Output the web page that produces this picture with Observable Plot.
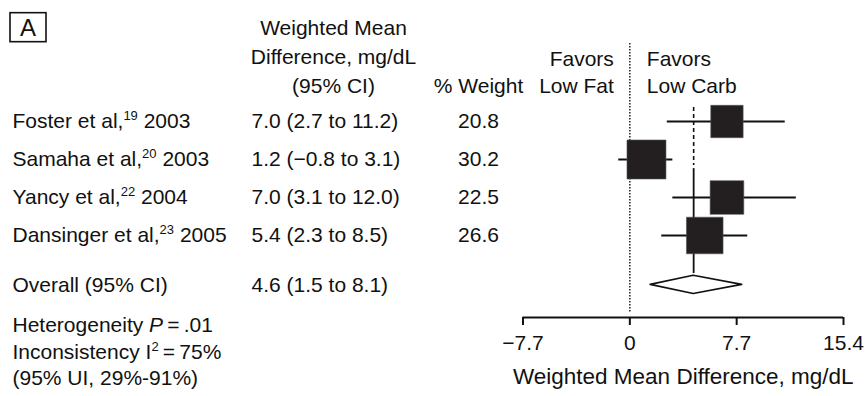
<!DOCTYPE html>
<html><head><meta charset="utf-8">
<script src="https://cdn.jsdelivr.net/npm/d3@7"></script>
<script src="https://cdn.jsdelivr.net/npm/@observablehq/plot@0.6"></script>
<style>html,body{margin:0;padding:0;background:#fff} svg{display:block}</style>
</head><body><div id="chart"></div>
<script>
// ---- data ----
const studies = ["Foster et al,^19^ 2003", "Samaha et al,^20^ 2003", "Yancy et al,^22^ 2004", "Dansinger et al,^23^ 2005"];
const estimates = [7.0, 1.2, 7.0, 5.4];
const lower = [2.7, -0.8, 3.1, 2.3];
const upper = [11.2, 3.1, 12.0, 8.5];
const weights = [20.8, 30.2, 22.5, 26.6];
const overallLabel = "Overall (95% CI)";
const overallEstimate = 4.6;
const overallLower = 1.5;
const overallUpper = 8.1;
const xTicks = [-7.7, 0, 7.7, 15.4];
const footnotes = ["Heterogeneity ~P~\u2009=\u2009.01", "Inconsistency I^2^\u2009=\u200975%", "(95% UI, 29%-91%)"];
const ciHeader = "Weighted Mean\nDifference, mg/dL\n(95% CI)";
const weightHeader = "% Weight";
const favorsLeft = "Favors\nLow Fat";
const favorsRight = "Favors\nLow Carb";
const axisTitle = "Weighted Mean Difference, mg/dL";
const panelLabel = "A";

// ---- layout ----
const W = 865, H = 396;
const FONT = "'Liberation Sans', Arial, Helvetica, sans-serif";
const FS = 21;
const OVERALL_ROW = 4.3, AXIS_ROW = 5.16, HEADER_ROW = -0.74;
const FOOT_ROW = 5.37, FOOT_STEP = 0.70;
const DIAMOND_H = 0.24;
const ink = "#111";

const fmt = v => (v < 0 ? "\u2212" : "") + Math.abs(v).toFixed(1);
const tickFmt = v => v === 0 ? "0" : fmt(v);

const rows = studies.map((s, i) => ({
  label: s, est: estimates[i], lo: lower[i], hi: upper[i], w: weights[i], row: i,
  ci: `${fmt(estimates[i])} (${fmt(lower[i])} to ${fmt(upper[i])})`,
  wt: weights[i].toFixed(1)
}));
const overallRow = [{label: overallLabel, row: OVERALL_ROW, ci: `${fmt(overallEstimate)} (${fmt(overallLower)} to ${fmt(overallUpper)})`}];
const diamond = [
  {x: overallLower, y1: OVERALL_ROW, y2: OVERALL_ROW},
  {x: overallEstimate, y1: OVERALL_ROW - DIAMOND_H, y2: OVERALL_ROW + DIAMOND_H},
  {x: overallUpper, y1: OVERALL_ROW, y2: OVERALL_ROW}
];
const foot = footnotes.map((t, i) => ({t, row: FOOT_ROW + i * FOOT_STEP}));
const overallDashed = [{x: overallEstimate, y1: -0.37, y2: 1.16}];
const overallSolid = [{x: overallEstimate, y1: 1.24, y2: 4.0}];
const zeroLine = [{x: 0, y1: -2.05, y2: 5.05}];

const plot = Plot.plot({
  width: W, height: H,
  marginTop: 0, marginRight: 0, marginLeft: 0, marginBottom: H - 317,
  style: {fontFamily: FONT, fontSize: FS + "px", color: ink, background: "white", overflow: "visible"},
  x: {domain: [xTicks[0], xTicks[xTicks.length - 1]], range: [522.5, 843]},
  y: {domain: [0, 3], range: [121, 235], axis: null},
  r: {range: [0, 22]},
  marks: [
    // reference lines
    Plot.ruleX(zeroLine, {x: "x", y1: "y1", y2: "y2", stroke: ink, strokeWidth: 1.4, strokeDasharray: "1.4,1.6"}),
    Plot.ruleX(overallDashed, {x: "x", y1: "y1", y2: "y2", stroke: ink, strokeWidth: 1.6, strokeDasharray: "4,3"}),
    Plot.ruleX(overallSolid, {x: "x", y1: "y1", y2: "y2", stroke: ink, strokeWidth: 1.8}),
    // whiskers and boxes
    Plot.ruleY(rows, {y: "row", x1: "lo", x2: "hi", stroke: ink, strokeWidth: 1.8}),
    Plot.dot(rows, {x: "est", y: "row", r: "w", symbol: "square", fill: "#231f20", stroke: "#555", strokeWidth: 0.6}),
    // overall diamond
    Plot.areaY(diamond, {x: "x", y1: "y1", y2: "y2", fill: "white", stroke: ink, strokeWidth: 1.6}),
    // axis
    Plot.ruleY([AXIS_ROW], {x1: xTicks[0], x2: xTicks[xTicks.length - 1], stroke: ink, strokeWidth: 2}),
    Plot.axisX({ticks: xTicks, tickSize: 8, tickPadding: 10, tickFormat: tickFmt, label: null, strokeWidth: 2, fontSize: FS}),
    Plot.text([axisTitle], {text: d => d, x: () => (xTicks[0] + xTicks[xTicks.length - 1]) / 2, frameAnchor: "bottom", dy: 59.6, textAnchor: "middle", lineAnchor: "middle", fontSize: 22.5}),
    // left table
    Plot.text(rows, {text: "label", y: "row", frameAnchor: "left", dx: 12, textAnchor: "start", lineAnchor: "middle"}),
    Plot.text(rows, {text: "ci", y: "row", frameAnchor: "left", dx: 251, textAnchor: "start", lineAnchor: "middle"}),
    Plot.text(rows, {text: "wt", y: "row", frameAnchor: "left", dx: 478, textAnchor: "middle", lineAnchor: "middle"}),
    Plot.text(overallRow, {text: "label", y: "row", frameAnchor: "left", dx: 12, textAnchor: "start", lineAnchor: "middle"}),
    Plot.text(overallRow, {text: "ci", y: "row", frameAnchor: "left", dx: 251, textAnchor: "start", lineAnchor: "middle"}),
    Plot.text(foot, {text: "t", y: "row", frameAnchor: "left", dx: 12, textAnchor: "start", lineAnchor: "middle"}),
    // headers
    Plot.text([ciHeader], {text: d => d, y: () => HEADER_ROW, frameAnchor: "left", dx: 333, textAnchor: "middle", lineAnchor: "bottom", lineHeight: 1.39}),
    Plot.text([weightHeader], {text: d => d, y: () => HEADER_ROW, frameAnchor: "left", dx: 478, textAnchor: "middle", lineAnchor: "bottom"}),
    Plot.text([favorsLeft], {text: d => d, x: () => 0, y: () => HEADER_ROW, dx: -16, textAnchor: "end", lineAnchor: "bottom", lineHeight: 1.3}),
    Plot.text([favorsRight], {text: d => d, x: () => 0, y: () => HEADER_ROW, dx: 17, textAnchor: "start", lineAnchor: "bottom", lineHeight: 1.3}),
    Plot.text([panelLabel], {text: d => d, frameAnchor: "top-left", dx: 27.5, dy: 27.5, textAnchor: "middle", lineAnchor: "middle", fontSize: 24})
  ]
});

document.getElementById("chart").appendChild(plot);

// rich text: ^sup^ and ~italic~
const NS = "http://www.w3.org/2000/svg";
const SUP = 13, SUP_SHIFT = 8;
d3.select(plot).selectAll("text").each(function() {
  const el = this;
  const targets = el.querySelector("tspan") ? Array.from(el.querySelectorAll("tspan")) : [el];
  for (const t of targets) {
    const s = t.textContent;
    if (!/[\^~]/.test(s)) continue;
    const parts = s.split(/(\^[^^]*\^|~[^~]*~)/).filter(p => p);
    t.textContent = "";
    let shifted = 0;
    for (const p of parts) {
      const ts = document.createElementNS(NS, "tspan");
      if (p[0] === "^") {
        ts.textContent = p.slice(1, -1);
        ts.setAttribute("font-size", SUP);
        ts.setAttribute("dy", -SUP_SHIFT);
        shifted = SUP_SHIFT;
      } else {
        ts.textContent = p[0] === "~" ? p.slice(1, -1) : p;
        if (p[0] === "~") ts.setAttribute("font-style", "italic");
        if (shifted) { ts.setAttribute("dy", shifted); shifted = 0; }
      }
      t.appendChild(ts);
    }
  }
});

// box around panel label
d3.select(plot).selectAll("text").filter(function() { return this.textContent === panelLabel; }).each(function() {
  const b = this.getBBox();
  const cx = b.x + b.width / 2, cy = b.y + b.height / 2;
  const m = this.getCTM();
  const px = m ? m.e + cx * m.a : cx, py = m ? m.f + cy * m.d : cy;
  d3.select(plot).append("rect")
    .attr("x", px - 18).attr("y", py - 14.5).attr("width", 36).attr("height", 29)
    .attr("fill", "none").attr("stroke", ink).attr("stroke-width", 1.6);
});
</script>
</body></html>
